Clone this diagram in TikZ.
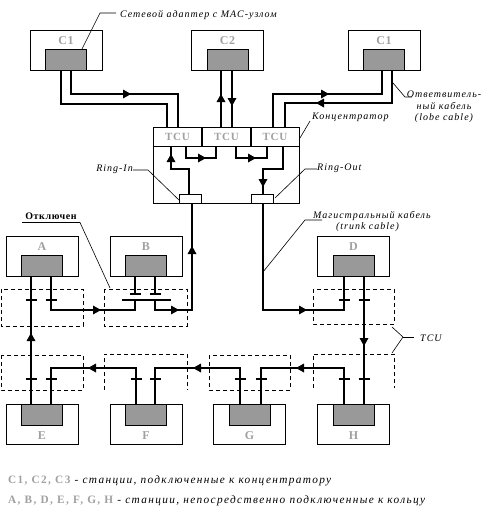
\documentclass[tikz,border=0pt]{standalone}
\usepackage{fontspec}
\setmainfont{Liberation Serif}
\newfontfamily\labfont[LetterSpace=10]{Liberation Serif}
\newfontfamily\legfont[LetterSpace=12]{Liberation Serif}
\newfontfamily\stafont[LetterSpace=6]{Liberation Serif}
\definecolor{grayfill}{RGB}{153,153,153}
\definecolor{graytext}{RGB}{160,160,160}
\begin{document}
\begin{tikzpicture}[x=1pt,y=-1pt,
  box/.style={draw, line width=0.9pt, minimum width=72pt, minimum height=40pt, inner sep=0pt},
  inner/.style={draw, line width=0.9pt, fill=grayfill, minimum width=41pt, minimum height=21pt, inner sep=0pt},
  stlabel/.style={text=graytext, font=\stafont\bfseries\fontsize{12}{12}\selectfont, inner sep=0pt},
  tculabel/.style={text=graytext, font=\stafont\bfseries\fontsize{11}{11}\selectfont, inner sep=0pt},
  lab/.style={font=\labfont\itshape\fontsize{10}{12}\selectfont, inner sep=0pt},
  leglab/.style={font=\legfont\fontsize{11.3}{12}\selectfont, inner sep=0pt},
  cable/.style={line width=2.6pt},
  icable/.style={line width=1.3pt},
  wire/.style={line width=0.6pt},
  tcubox/.style={draw, dash pattern=on 4pt off 3pt, line width=0.8pt},
  triR/.pic={\fill (4,0) -- (-4,-4.5) -- (-4,4.5) -- cycle;},
  triL/.pic={\fill (-4,0) -- (4,-4.5) -- (4,4.5) -- cycle;},
  triU/.pic={\fill (0,-4) -- (-4.5,4) -- (4.5,4) -- cycle;},
  triD/.pic={\fill (0,4) -- (-4.5,-4) -- (4.5,-4) -- cycle;},
  tk/.pic={\draw[line width=2.3pt] (-5.5,0) -- (5.5,0);}
]
\useasboundingbox (0,0) rectangle (487,515);

% ---------- top stations ----------
\node[box] (c1l) at (66,50) {};
\node[inner] (c1lg) at (66,59.5) {};
\node[stlabel] (c1lt) at (66,41) {C1};
\node[box] (c2) at (227.5,50) {};
\node[inner] (c2g) at (227.5,59.5) {};
\node[stlabel] (c2t) at (227.5,41) {C2};
\node[box] (c1r) at (384,50) {};
\node[inner] (c1rg) at (384,59.5) {};
\node[stlabel] (c1rt) at (384,41) {C1};

% ---------- concentrator ----------
\node[draw, line width=0.9pt, minimum width=146pt, minimum height=76pt, inner sep=0pt] (conc) at (226,165) {};
\draw[line width=0.9pt] (153,146) coordinate (tcl) -- (299,146) coordinate (tcr);
\draw[line width=1.5pt] (202,127) coordinate (d1t) -- (202,146) coordinate (d1b);
\draw[line width=1.5pt] (251,127) coordinate (d2t) -- (251,146) coordinate (d2b);
\node[tculabel] (tcu1) at (177.5,137) {TCU};
\node[tculabel] (tcu2) at (226.5,137) {TCU};
\node[tculabel] (tcu3) at (275,137) {TCU};
\node[draw, line width=0.9pt, minimum width=22pt, minimum height=9pt, inner sep=0pt] (rin) at (190.5,198.5) {};
\node[draw, line width=0.9pt, minimum width=22pt, minimum height=9pt, inner sep=0pt] (rout) at (262.5,198.5) {};

% ---------- lobe cables ----------
\draw[cable] (71,70) -- (71,94) -- (178,94) -- (178,127);
\draw[cable] (61,70) -- (61,104) -- (167,104) -- (167,127);
\pic at (127,94) {triR};
\draw[cable] (221,127) -- (221,70);
\pic at (221,98) {triU};
\draw[cable] (232,70) -- (232,127);
\pic at (232,102) {triD};
\draw[cable] (273,127) -- (273,94) -- (382,94) -- (382,70);
\pic at (325,94) {triR};
\draw[cable] (285,127) -- (285,103) -- (392,103) -- (392,70);
\pic at (320,103) {triL};

% ---------- inside concentrator ----------
\draw[icable] (171,146) -- (171,169) -- (189,169) -- (189,194);
\pic at (171,158) {triU};
\draw[icable] (186,146) -- (186,158) -- (216,158) -- (216,146);
\pic at (202,158) {triR};
\draw[icable] (236,146) -- (236,158) -- (267,158) -- (267,146);
\pic at (252,158) {triR};
\draw[icable] (283,146) -- (283,169) -- (263,169) -- (263,194);
\pic at (263,183) {triD};

% ---------- ring stations ----------
\node[box] (a) at (42,256) {};
\node[inner] (ag) at (42,265.5) {};
\node[stlabel] (at) at (42,247) {A};
\node[box] (b) at (146,256) {};
\node[inner] (bg) at (146,265.5) {};
\node[stlabel] (bt) at (146,247) {B};
\node[box] (d) at (353.5,256) {};
\node[inner] (dg) at (353.5,265.5) {};
\node[stlabel] (dt) at (353.5,247) {D};

\node[box] (e) at (42,424) {};
\node[inner] (eg) at (42,414.5) {};
\node[stlabel] (et) at (42,436) {E};
\node[box] (f) at (146,424) {};
\node[inner] (fg) at (146,414.5) {};
\node[stlabel] (ft) at (146,436) {F};
\node[box] (g) at (249.5,424) {};
\node[inner] (gg) at (249.5,414.5) {};
\node[stlabel] (gt) at (249.5,436) {G};
\node[box] (h) at (353.5,424) {};
\node[inner] (hg) at (353.5,414.5) {};
\node[stlabel] (ht) at (353.5,436) {H};

% ---------- dashed TCU boxes ----------
\draw[tcubox] (1,289) rectangle (83,326);
\draw[tcubox] (104,289) rectangle (187,326);
\draw[tcubox] (313,289) rectangle (394,324);
\draw[tcubox] (1,355) rectangle (83,390);
\draw[tcubox] (104,390) -- (104,354) -- (187,354) -- (187,390);
\draw[tcubox] (209,355) rectangle (290,390);
\draw[tcubox] (313,388) -- (313,354) -- (394,354) -- (394,388);

% ---------- ring cables ----------
\draw[cable] (192,203) -- (192,310) -- (155,310) -- (155,300);
\pic at (192,250) {triU};
\pic at (175,310) {triR};
\draw[cable] (122,300) -- (171,300);
\draw[cable] (51,276) -- (51,310) -- (135,310) -- (135,300);
\pic at (97,310) {triR};
\pic at (51,300) {tk};
\draw[cable] (135,276) -- (135,294);
\draw[cable] (155,276) -- (155,294);
\pic at (135,294) {tk};
\pic at (155,294) {tk};
\draw[cable] (31,276) -- (31,404);
\pic at (31,300) {tk};
\pic at (31,379) {tk};
\pic at (31,337) {triU};
\draw[cable] (263,203) -- (263,310) -- (344,310) -- (344,276);
\pic at (303,310) {triR};
\pic at (344,300) {tk};
\draw[cable] (364,276) -- (364,404);
\pic at (364,300) {tk};
\pic at (364,379) {tk};
\pic at (364,342) {triD};
\draw[cable] (344,404) -- (344,368) -- (261,368) -- (261,404);
\pic at (300,368) {triL};
\pic at (344,379) {tk};
\pic at (261,379) {tk};
\draw[cable] (240,404) -- (240,368) -- (155,368) -- (155,404);
\pic at (197,368) {triL};
\pic at (240,379) {tk};
\pic at (155,379) {tk};
\draw[cable] (136,404) -- (136,368) -- (51,368) -- (51,404);
\pic at (92,368) {triL};
\pic at (136,379) {tk};
\pic at (51,379) {tk};

% ---------- labels ----------
\node[lab, anchor=base west] (lad) at (120,17) {Сетевой адаптер с MAC-узлом};
\draw[wire] (82,49) -- (100,13) -- (116,13);
\node[lab, anchor=base] (lob1) at (444,97) {Ответвитель-};
\node[lab, anchor=base] (lob2) at (444,109) {ный кабель};
\node[lab, anchor=base] (lob3) at (444,120) {(lobe cable)};
\draw[wire] (393,83) -- (405,97) -- (412,97);
\node[lab, anchor=base west] (lconc) at (312,119) {Концентратор};
\draw[wire] (300,138) -- (310,121);
\node[lab, anchor=base east] (lrin) at (133,171) {Ring-In};
\draw[wire] (133,170) -- (148,170) -- (180,201);
\node[lab, anchor=base west] (lrout) at (317,170) {Ring-Out};
\draw[wire] (317,169) -- (305,169) -- (275,198);
\node[font=\stafont\bfseries\fontsize{10}{12}\selectfont, inner sep=0pt, anchor=base] (loff) at (51,219) {Отключен};
\draw[wire] (22,222.5) -- (80,222.5) -- (110,288);
\node[lab, anchor=base west] (ltr1) at (313,218) {Магистральный кабель};
\node[lab, anchor=base] (ltr2) at (367.5,229) {(trunk cable)};
\draw[wire] (322,220) -- (305,220) -- (263,272);
\node[lab, anchor=base west] (ltcu) at (420,341) {TCU};
\draw[wire] (392,327) -- (403,337) -- (392,353);
\draw[wire] (403,337) -- (414,337);

% ---------- legend ----------
\node[leglab, anchor=base west] (leg1) at (8,483) {{\color{graytext}\bfseries C1, C2, C3} {\itshape - станции, подключенные к концентратору}};
\node[leglab, anchor=base west] (leg2) at (8,503) {{\color{graytext}\bfseries A, B, D, E, F, G, H} {\itshape - станции, непосредственно подключенные к кольцу}};
\end{tikzpicture}
\end{document}
